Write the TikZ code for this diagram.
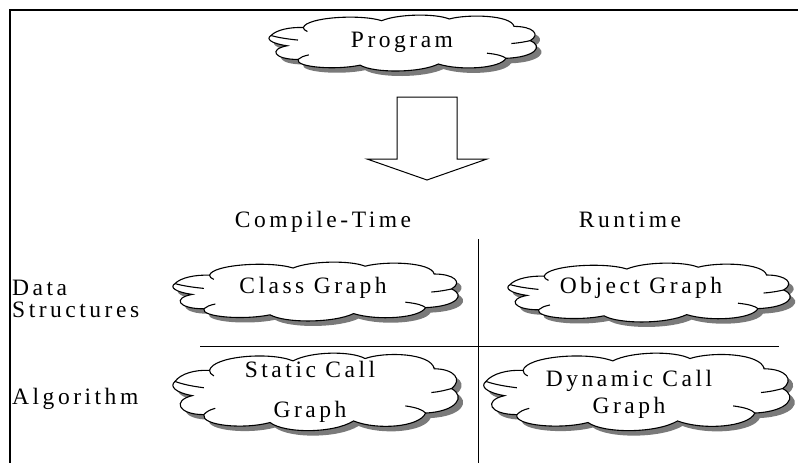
\documentclass[tikz,border=0pt]{standalone}
\usepackage{fontspec}
\setmainfont{Liberation Serif}[LetterSpace=15]
\definecolor{shadowgray}{HTML}{7A7A7A}
\newcommand\cloudoutline{(0,0.36) .. controls (0.02,0.26) and (0.07,0.21) .. (0.12,0.22)
 .. controls (0.13,0.04) and (0.33,-0.02) .. (0.41,0.1)
 .. controls (0.47,-0.02) and (0.61,-0.03) .. (0.66,0.07)
 .. controls (0.73,-0.02) and (0.89,0.0) .. (0.9,0.2)
 .. controls (0.97,0.2) and (1.0,0.34) .. (0.96,0.45)
 .. controls (1.01,0.55) and (0.98,0.74) .. (0.87,0.76)
 .. controls (0.85,0.94) and (0.7,0.98) .. (0.62,0.86)
 .. controls (0.55,1.02) and (0.38,1.02) .. (0.33,0.88)
 .. controls (0.24,0.97) and (0.09,0.92) .. (0.1,0.78)
 .. controls (0.01,0.78) and (-0.01,0.6) .. (0.06,0.54)
 .. controls (0.0,0.5) and (-0.02,0.42) .. (0,0.36) -- cycle}
\newcommand\cloudcurls{(0,0.36) .. controls (0.03,0.4) and (0.06,0.42) .. (0.1,0.44)
 (0.96,0.45) .. controls (0.94,0.47) and (0.92,0.49) .. (0.89,0.5)
 (0.12,0.22) .. controls (0.12,0.25) and (0.125,0.27) .. (0.135,0.29)
 (0.87,0.76) .. controls (0.86,0.72) and (0.84,0.69) .. (0.8,0.67)
 (0.1,0.78) .. controls (0.11,0.74) and (0.12,0.72) .. (0.14,0.7)}
\newcommand\mycloud[4]{%
 \begin{scope}[shift={(#1+5,#2+5)},xscale=#3,yscale=#4]
  \fill[shadowgray] \cloudoutline;
 \end{scope}
 \begin{scope}[shift={(#1,#2)},xscale=#3,yscale=#4]
  \filldraw[fill=white,draw=black,line width=1.1pt] \cloudoutline;
  \draw[line width=1.1pt] \cloudcurls;
 \end{scope}}
\tikzset{lbl/.style={anchor=base,inner sep=0pt,font=\fontsize{23.5}{27}\selectfont}}
\begin{document}
\begin{tikzpicture}[x=1pt,y=-1pt]
\useasboundingbox (0,0) rectangle (798,463);
% frame
\draw[line width=2pt] (10,463) -- (10,10) -- (798,10);
% dividers
\draw[line width=1pt] (478,239) -- (478,463);
\draw[line width=1pt] (200,346) -- (779,346);
% clouds
\mycloud{271}{15}{270}{57}
\mycloud{175}{262}{288}{60}
\mycloud{510}{263}{285}{60}
\mycloud{175}{353}{288}{79}
\mycloud{486}{353}{309}{79}
% block arrow
\draw[line width=1pt,fill=white] (397,97) -- (457,97) -- (457,159) -- (487,159) -- (427,180) -- (367,159) -- (397,159) -- cycle;
% texts
\node[lbl] (prog) at (402,47) {Program};
\node[lbl] (ct) at (323,227) {Compile-Time};
\node[lbl] (rt) at (630,227) {Runtime};
\node[lbl,anchor=base west] (data) at (12,295) {Data};
\node[lbl,anchor=base west] (struct) at (12,317) {Structures};
\node[lbl,anchor=base west] (algo) at (12,404) {Algorithm};
\node[lbl] (cg) at (313,293) {Class Graph};
\node[lbl] (og) at (641,293) {Object Graph};
\node[lbl] (sc1) at (310,377) {Static Call};
\node[lbl] (sc2) at (310,417) {Graph};
\node[lbl] (dc1) at (629,386) {Dynamic Call};
\node[lbl] (dc2) at (629,413) {Graph};
\end{tikzpicture}
\end{document}
